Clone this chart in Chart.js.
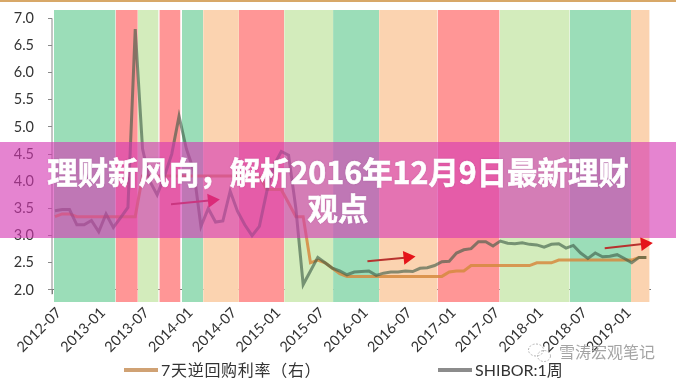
<!DOCTYPE html>
<html>
<head>
<meta charset="utf-8">
<script src="https://cdn.jsdelivr.net/npm/chart.js@4"></script>
<style>
  body { margin: 0; background: #fff; }
  #wrap { position: relative; width: 676px; height: 381px; overflow: hidden; font-family: "Noto Sans CJK SC", sans-serif; }
  #topline { position: absolute; left: 0; top: 0; width: 676px; height: 2px; background: #d8a868; }
  #banner { position: absolute; left: 0; top: 142px; width: 676px; height: 96px; background: rgba(213, 56, 179, 0.62); }
  #title { position: absolute; left: 20px; top: 153px; width: 636px; text-align: center; color: #fff; font-size: 30.4px; font-weight: 700; line-height: 36px; -webkit-text-stroke: 0.6px #fff; text-shadow: 0 0 2px rgba(120, 40, 110, 0.4); }
  .legend { position: absolute; top: 359px; font-family: Lato, "Noto Sans CJK SC", sans-serif; font-size: 16px; line-height: 22px; color: #333; white-space: nowrap; }
  .legend i { display: inline-block; width: 34px; height: 4px; vertical-align: 4px; margin-right: 3px; }
  #mark { position: absolute; left: 559px; top: 340px; font-size: 16px; line-height: 22px; color: #a4a4a4; white-space: nowrap; }
  #logo { position: absolute; left: 527px; top: 342px; }
</style>
</head>
<body>
<div id="wrap">
  <canvas id="chart" width="676" height="381"></canvas>
  <div id="topline"></div>
  <div id="banner"></div>
  <div id="title">理财新风向，解析2016年12月9日最新理财<br>观点</div>
  <svg id="logo" width="26" height="22">
    <ellipse cx="9" cy="8" rx="7.5" ry="6" fill="none" stroke="#b4b4b4" stroke-dasharray="2 1.5"/>
    <ellipse cx="17" cy="14" rx="6.5" ry="5.5" fill="none" stroke="#b4b4b4" stroke-dasharray="2 1.5"/>
  </svg>
  <div id="mark">雪涛宏观笔记</div>
  <div class="legend" style="left:124px"><i style="background:#d0a274"></i><span id="name0" style="letter-spacing:0.7px"></span></div>
  <div class="legend" style="left:438px"><i style="background:#8c8c8c"></i><span id="name1"></span></div>
</div>
<script>
const seriesNames = ["7天逆回购利率（右）", "SHIBOR:1周"];
const tickMonths = [0, 6, 12, 18, 24, 30, 36, 42, 48, 54, 60, 66, 72, 78];
const tickLabels = ["2012-07", "2013-01", "2013-07", "2014-01", "2014-07", "2015-01", "2015-07",
  "2016-01", "2016-07", "2017-01", "2017-07", "2018-01", "2018-07", "2019-01"];
const yTicks = [2, 2.5, 3, 3.5, 4, 4.5, 5, 5.5, 6, 6.5, 7];

// one value per month, first point sits a little after the 2012-07 tick
const shibor = [3.46, 3.48, 3.48, 3.2, 3.2, 3.28, 3.07, 3.4, 3.15, 3.33,
  3.52, 6.8, 4.6, 4.0, 3.75, 4.1, 4.5, 5.2, 4.6, 4.2,
  3.17, 3.5, 3.25, 3.27, 3.82, 3.45, 3.2, 3.0, 3.17, 3.8,
  4.3, 4.55, 4.48, 3.5, 2.1, 2.35, 2.6, 2.5, 2.4, 2.35,
  2.28, 2.33, 2.34, 2.35, 2.27, 2.31, 2.33, 2.33, 2.35, 2.34,
  2.4, 2.41, 2.45, 2.52, 2.53, 2.68, 2.74, 2.76, 2.89, 2.89,
  2.81, 2.9, 2.86, 2.85, 2.87, 2.84, 2.83, 2.79, 2.84, 2.85,
  2.77, 2.82, 2.68, 2.58, 2.68, 2.61, 2.62, 2.65, 2.58, 2.5,
  2.6, 2.6];
const repo = [3.35, 3.4, 3.4, 3.35, 3.35, 3.35, 3.35, 3.35, 3.35, 3.35,
  3.35, 3.35, 4.1, 4.1, 4.1, 4.1, 4.1, 4.1, 4.1, 4.1,
  4.1, 4.1, 4.1, 4.1, 4.1, 4.1, 4.1, 4.1, 4.1, 3.85,
  3.85, 3.85, 3.6, 3.35, 3.35, 2.5, 2.55, 2.5, 2.4, 2.3,
  2.25, 2.25, 2.25, 2.25, 2.25, 2.25, 2.25, 2.25, 2.25, 2.25,
  2.25, 2.25, 2.25, 2.25, 2.33, 2.35, 2.35, 2.45, 2.45, 2.45,
  2.45, 2.45, 2.45, 2.45, 2.45, 2.45, 2.5, 2.5, 2.5, 2.55,
  2.55, 2.55, 2.55, 2.55, 2.55, 2.55, 2.55, 2.55, 2.55, 2.55,
  2.6, 2.6];

// coloured periods, in months from 2012-07
const bandStarts = [0.27, 8.7, 11.75, 14.7, 17.8, 20.7, 25.6, 31.8, 38.5, 44.8, 52.8, 61.3, 70.9, 79.3];
const bandEnds = [8.7, 11.75, 14.6, 17.6, 20.7, 25.6, 31.8, 38.5, 44.8, 52.8, 61.3, 70.9, 79.3, 81.85];
const bandColors = ["#9bddb8", "#ff9696", "#d3ecbc", "#ff9696", "#9bddb8", "#fbd3b0", "#ff9696",
  "#d3ecbc", "#9bddb8", "#fbd3b0", "#ff9696", "#d3ecbc", "#9bddb8", "#fbd3b0"];

const arrowXs = [[16.3, 21.9], [43.2, 48.7], [75.7, 81.2]];
const arrowYs = [[3.58, 3.65], [2.53, 2.6], [2.77, 2.85]];

const yMin = 1.779, yMax = 7.153;
const xOffset = 0.4;

document.getElementById("name0").textContent = seriesNames[0];
document.getElementById("name1").textContent = seriesNames[1];

const datasets = [];
bandColors.forEach(function (color, i) {
  datasets.push({
    data: [{ x: bandStarts[i], y: yMax }, { x: bandEnds[i], y: yMax }],
    borderWidth: 0,
    pointRadius: 0,
    backgroundColor: color,
    fill: { value: yMin },
    order: 10,
  });
});
datasets.push({
  label: seriesNames[0],
  data: repo.map((v, i) => ({ x: i + xOffset, y: v })),
  borderColor: "rgba(214, 138, 62, 0.85)",
  borderWidth: 3,
  pointRadius: 0,
  tension: 0,
  order: 3,
});
datasets.push({
  label: seriesNames[1],
  data: shibor.map((v, i) => ({ x: i + xOffset, y: v })),
  borderColor: "rgba(60, 90, 70, 0.62)",
  borderWidth: 3,
  pointRadius: 0,
  tension: 0,
  order: 2,
});
// y axis line stops short of the bands
datasets.push({
  data: [{ x: 0, y: 1.92 }, { x: 0, y: 7 }],
  borderColor: "#8a8a8a",
  borderWidth: 1,
  pointRadius: 0,
  clip: false,
  order: 1,
});
arrowXs.forEach(function (xs, i) {
  datasets.push({
    data: [{ x: xs[0], y: arrowYs[i][0] }, { x: xs[1], y: arrowYs[i][1] }],
    borderColor: "#b8322e",
    borderWidth: 2,
    pointRadius: [0, 6],
    pointStyle: "triangle",
    pointRotation: [0, 84],
    pointBackgroundColor: "#e5141a",
    pointBorderColor: "#e5141a",
    clip: false,
    order: 0,
  });
});

new Chart(document.getElementById("chart").getContext("2d"), {
  type: "line",
  data: { datasets: datasets },
  options: {
    responsive: false,
    animation: false,
    layout: { padding: { left: 0, right: 26, top: 10, bottom: 79 } },
    plugins: { legend: { display: false }, tooltip: { enabled: false } },
    scales: {
      x: {
        type: "linear",
        position: { y: 2 },
        min: 0,
        max: 81.9,
        afterBuildTicks: function (scale) {
          scale.ticks = tickMonths.map((m) => ({ value: m }));
        },
        afterFit: function (scale) {
          scale.paddingTop = 0;
          scale.paddingLeft = 0;
          scale.paddingRight = 0;
        },
        border: { color: "#777", width: 1 },
        grid: { drawOnChartArea: false, color: "#777", tickLength: 4 },
        ticks: {
          autoSkip: false,
          minRotation: 45,
          maxRotation: 45,
          padding: 10,
          labelOffset: 7,
          color: "#333",
          font: { family: "Lato", size: 14.5 },
          callback: function (value) {
            return tickLabels[tickMonths.indexOf(value)];
          },
        },
      },
      y: {
        min: yMin,
        max: yMax,
        afterBuildTicks: function (scale) {
          scale.ticks = yTicks.map((v) => ({ value: v }));
        },
        afterFit: function (scale) {
          scale.width = 52;
          scale.paddingTop = 0;
          scale.paddingBottom = 0;
        },
        border: { display: false },
        grid: { drawOnChartArea: false, color: "#8a8a8a", tickLength: 4 },
        ticks: {
          padding: 14,
          color: "#333",
          font: { family: "Lato", size: 14.5 },
          callback: function (value) {
            return value.toFixed(1);
          },
        },
      },
    },
  },
});
</script>
</body>
</html>
